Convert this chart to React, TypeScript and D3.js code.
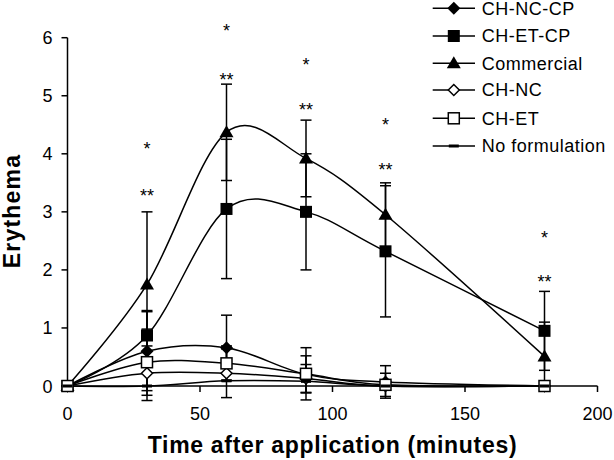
import React, { useEffect } from "react";
import * as d3 from "d3";

const times = [0, 30, 60, 90, 120, 180];
const seriesNames = ["CH-NC-CP", "CH-ET-CP", "Commercial", "CH-NC", "CH-ET", "No formulation"];
const chNcCp = [0, 0.6, 0.66, 0.2, 0.07, 0];
const chEtCp = [0, 0.87, 3.05, 3.0, 2.32, 0.95];
const commercial = [0, 1.75, 4.37, 3.92, 2.95, 0.51];
const chNc = [0, 0.22, 0.22, 0.13, 0, 0];
const chEt = [0, 0.41, 0.39, 0.21, 0.02, 0];
const noForm = [0, 0, 0.09, 0.08, 0, 0];

const errChNcCp = [0, 0.68, 0.56, 0.32, 0.28, 0];
const errChEtCp = [0, 0.43, 1.2, 1.0, 1.13, 0.68];
const errCommercial = [0, 1.25, 0.83, 0.66, 0.55, 0.59];
const errChNc = [0, 0.47, 0.42, 0.24, 0, 0];
const errChEt = [0, 0.57, 0.3, 0.45, 0.2, 0];
const errNoForm = [0, 0, 0, 0, 0, 0];

const starTimes = [30, 60, 90, 120, 180];
const singleStarY = [4.15, 6.18, 5.6, 4.57, 2.62];
const doubleStarY = [3.35, 5.34, 4.83, 3.79, 1.86];

const xTicks = [0, 50, 100, 150, 200];
const yTicks = [0, 1, 2, 3, 4, 5, 6];

type Marker = "diamond" | "square" | "triangle" | "odiamond" | "osquare" | "dash";
const markers: Marker[] = ["diamond", "square", "triangle", "odiamond", "osquare", "dash"];
const values = [chNcCp, chEtCp, commercial, chNc, chEt, noForm];
const errors = [errChNcCp, errChEtCp, errCommercial, errChNc, errChEt, errNoForm];

const FONT = "Liberation Sans, Arial, sans-serif";

function MarkerShape({ type, cx, cy }: { type: Marker; cx: number; cy: number }) {
  const sw = 1.5;
  switch (type) {
    case "diamond":
      return <path d={`M${cx},${cy - 6.5}L${cx + 6.5},${cy}L${cx},${cy + 6.5}L${cx - 6.5},${cy}Z`} fill="#000" />;
    case "square":
      return <rect x={cx - 6} y={cy - 6} width={12} height={12} fill="#000" />;
    case "triangle":
      return <path d={`M${cx},${cy - 7}L${cx + 7},${cy + 5}L${cx - 7},${cy + 5}Z`} fill="#000" />;
    case "odiamond":
      return (
        <path
          d={`M${cx},${cy - 5.5}L${cx + 5.5},${cy}L${cx},${cy + 5.5}L${cx - 5.5},${cy}Z`}
          fill="#fff"
          stroke="#000"
          strokeWidth={sw}
        />
      );
    case "osquare":
      return <rect x={cx - 5.5} y={cy - 5.5} width={11} height={11} fill="#fff" stroke="#000" strokeWidth={sw} />;
    case "dash":
      return <rect x={cx - 5} y={cy - 1.5} width={10} height={3} fill="#000" />;
  }
}

export default function App() {
  useEffect(() => {
    document.body.style.margin = "0";
  }, []);

  const W = 614;
  const H = 460;
  const x = d3.scaleLinear().domain([0, 200]).range([67.5, 597.5]);
  const y = d3.scaleLinear().domain([0, 6]).range([386, 37.7]);

  const line = d3
    .line<number>()
    .x((_, i) => x(times[i]))
    .y((d) => y(d))
    .curve(d3.curveCardinal.tension(0));

  const legendY = [8.3, 36, 63.3, 90, 118.3, 146];

  return (
    <svg width={W} height={H} style={{ display: "block" }} fontFamily={FONT}>
      <rect width={W} height={H} fill="#fff" />
      {/* axes */}
      <g stroke="#000" strokeWidth={1.5} fill="none">
        <line x1={x(0)} x2={x(0)} y1={y(6)} y2={y(0)} />
        <line x1={x(0) - 6} x2={x(200)} y1={y(0)} y2={y(0)} />
        {yTicks.map((t) => (
          <line key={"yt" + t} x1={x(0) - 6} x2={x(0)} y1={y(t)} y2={y(t)} />
        ))}
        {xTicks.map((t) => (
          <line key={"xt" + t} x1={x(t)} x2={x(t)} y1={y(0)} y2={y(0) + 6} />
        ))}
      </g>
      {yTicks.map((t) => (
        <text key={"yl" + t} x={x(0) - 15} y={y(t) + 6.5} fontSize={18} textAnchor="end" fill="#000">
          {t}
        </text>
      ))}
      {xTicks.map((t) => (
        <text key={"xl" + t} x={x(t)} y={420} fontSize={18} textAnchor="middle" fill="#000">
          {t}
        </text>
      ))}
      <text
        x={(67.5 + 597.5) / 2 - 0}
        y={453}
        fontSize={23}
        fontWeight="bold"
        textAnchor="middle"
        letterSpacing={0.7}
        fill="#000"
      >
        Time after application (minutes)
      </text>
      <text
        transform={`translate(20,211) rotate(-90)`}
        fontSize={23}
        fontWeight="bold"
        textAnchor="middle"
        letterSpacing={1.2}
        fill="#000"
      >
        Erythema
      </text>

      {/* lines */}
      {values.map((v, si) => (
        <path key={"ln" + si} d={line(v) || ""} fill="none" stroke="#000" strokeWidth={1.5} />
      ))}

      {/* error bars */}
      <g stroke="#000" strokeWidth={1.5}>
        {values.map((v, si) =>
          v.map((val, i) => {
            const e = errors[si][i];
            if (!e) return null;
            const cx = x(times[i]);
            const top = y(val + e);
            const bot = y(val - e);
            return (
              <g key={`eb${si}-${i}`}>
                <line x1={cx} x2={cx} y1={top} y2={bot} />
                <line x1={cx - 5.5} x2={cx + 5.5} y1={top} y2={top} />
                <line x1={cx - 5.5} x2={cx + 5.5} y1={bot} y2={bot} />
              </g>
            );
          })
        )}
      </g>

      {/* markers */}
      {values.map((v, si) =>
        v.map((val, i) => <MarkerShape key={`mk${si}-${i}`} type={markers[si]} cx={x(times[i])} cy={y(val)} />)
      )}

      {/* significance stars */}
      {starTimes.map((t, i) => (
        <g key={"st" + i}>
          <text x={x(t)} y={y(singleStarY[i]) + 10} fontSize={18} textAnchor="middle" fill="#000">
            *
          </text>
          <text x={x(t)} y={y(doubleStarY[i]) + 10} fontSize={18} textAnchor="middle" fill="#000">
            **
          </text>
        </g>
      ))}

      {/* legend */}
      {seriesNames.map((name, i) => (
        <g key={"lg" + i}>
          <line x1={432.7} x2={475} y1={legendY[i]} y2={legendY[i]} stroke="#000" strokeWidth={1.5} />
          <MarkerShape type={markers[i]} cx={453.8} cy={legendY[i]} />
          <text x={481.7} y={legendY[i] + 6.3} fontSize={18} letterSpacing={0.5} fill="#000">
            {name}
          </text>
        </g>
      ))}
    </svg>
  );
}
